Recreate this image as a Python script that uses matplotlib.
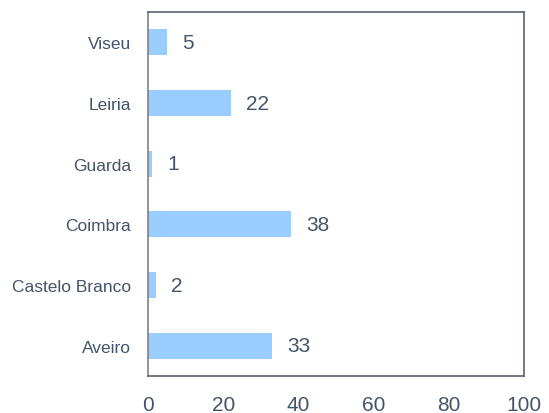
import matplotlib
matplotlib.use("Agg")
import matplotlib.pyplot as plt

categories = ["Aveiro", "Castelo Branco", "Coimbra", "Guarda", "Leiria", "Viseu"]
values = [33, 2, 38, 1, 22, 5]
xticks = [0, 20, 40, 60, 80, 100]

plt.rcParams['font.family'] = ['Liberation Sans', 'DejaVu Sans']
txt = '#44546A'
fig = plt.figure(figsize=(5.49, 4.14), dpi=100)
ax = fig.add_axes([148/549, 1-377/414, (524-148)/549, (377-13)/414])
y = range(len(categories))
ax.barh(y, values, height=0.43, color='#99CCFF')
for yi, v in zip(y, values):
    ax.annotate(str(v), (v, yi), xytext=(11, 0), textcoords='offset points',
                va='center', ha='left', fontsize=15, color=txt)
ax.set_xlim(0, 100)
ax.set_ylim(-0.5, len(categories)-0.5)
ax.set_xticks(xticks)
ax.set_xticklabels([str(t) for t in xticks], fontsize=15, color=txt)
ax.set_yticks(list(y))
ax.set_yticklabels(categories, fontsize=12.5, color=txt)
ax.tick_params(length=0, pad=12)
ax.tick_params(axis='x', pad=14)
for s in ax.spines.values():
    s.set_color('#5a6270')
    s.set_linewidth(1.2)
ax.spines['left'].set_color('#808080')
fig.savefig('out.png', dpi=100)
